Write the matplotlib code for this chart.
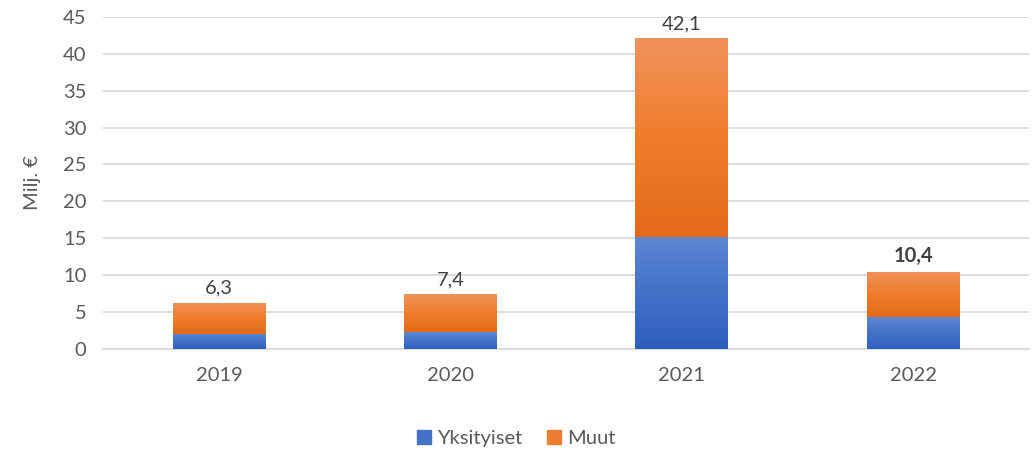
import numpy as np
import matplotlib.pyplot as plt
from matplotlib.colors import LinearSegmentedColormap

years = ['2019', '2020', '2021', '2022']
yksityiset = [2.1, 2.3, 15.2, 4.3]
muut = [4.2, 5.1, 26.9, 6.1]
totals = ['6,3', '7,4', '42,1', '10,4']
y_ticks = [0, 5, 10, 15, 20, 25, 30, 35, 40, 45]

plt.rcParams['font.family'] = ['Lato', 'DejaVu Sans']

blue_cmap = LinearSegmentedColormap.from_list('b', ['#2d5fbd', '#4372c9', '#5d87d2'])
orange_cmap = LinearSegmentedColormap.from_list('o', ['#e36a17', '#f07d2b', '#f0925c'])


def gradient_bars(ax, bars, cmap):
    """Fill each bar with a vertical gradient, like Excel does."""
    grad = np.linspace(0, 1, 256).reshape(-1, 1)
    for bar in bars:
        x0, y0 = bar.get_x(), bar.get_y()
        x1, y1 = x0 + bar.get_width(), y0 + bar.get_height()
        im = ax.imshow(grad, cmap=cmap, origin='lower', aspect='auto',
                       extent=(x0, x1, y0, y1), zorder=3)
        im.set_clip_path(bar)
        bar.set_facecolor('none')


fig = plt.figure(figsize=(10.32, 4.54), dpi=100)
ax = fig.add_axes([0.1, 0.231, 0.897, 0.732])

x = np.arange(len(years))
b1 = ax.bar(x, yksityiset, width=0.4, color='#4472c4', zorder=3,
            label='Yksityiset', linewidth=0)
b2 = ax.bar(x, muut, width=0.4, bottom=yksityiset, color='#ed7d31',
            zorder=3, label='Muut', linewidth=0)
gradient_bars(ax, b1, blue_cmap)
gradient_bars(ax, b2, orange_cmap)

for i in range(len(years)):
    top = yksityiset[i] + muut[i]
    ax.text(x[i], top + 0.8, totals[i], ha='center', va='bottom',
            fontsize=14.5, color='#404040',
            fontweight='bold' if i == 3 else 'normal')

ax.set_xlim(-0.5, 3.5)
ax.set_ylim(0, 45)
ax.set_yticks(y_ticks)
ax.set_xticks(x)
ax.set_xticklabels(years)
ax.tick_params(axis='both', length=0, labelsize=14.5, labelcolor='#595959')
ax.tick_params(axis='y', pad=12)
ax.tick_params(axis='x', pad=13)
ax.yaxis.grid(True, color='#d9d9d9', linewidth=1.3, zorder=0)
ax.set_axisbelow(True)
for side in ['top', 'right', 'left']:
    ax.spines[side].set_visible(False)
ax.spines['bottom'].set_color('#d9d9d9')
ax.spines['bottom'].set_linewidth(1.3)
ax.set_ylabel('Milj. €', fontsize=14.5, color='#595959', labelpad=16)

handles = [plt.Rectangle((0, 0), 1, 1, color='#4472c4'),
           plt.Rectangle((0, 0), 1, 1, color='#ed7d31')]
fig.legend(handles, ['Yksityiset', 'Muut'], loc='center',
           bbox_to_anchor=(0.5, 0.035), ncol=2, frameon=False,
           fontsize=14.5, labelcolor='#595959', handlelength=0.7,
           handleheight=0.7, handletextpad=0.3, columnspacing=1.2)

fig.savefig('out.png', dpi=100)
